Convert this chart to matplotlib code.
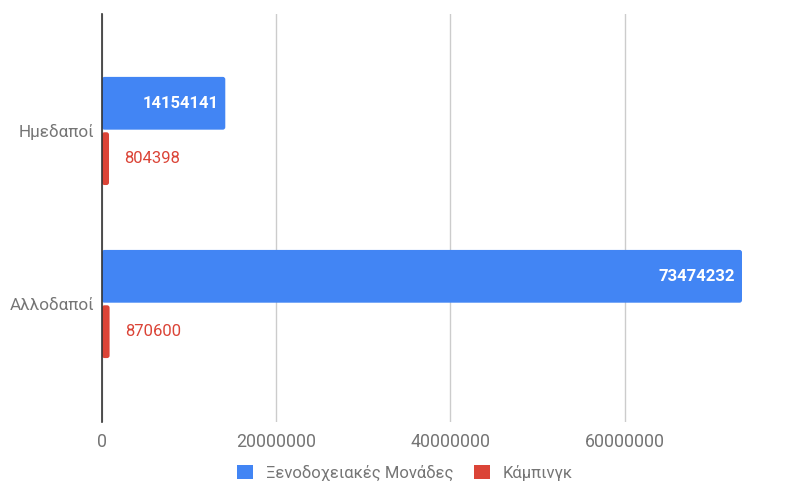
import matplotlib
matplotlib.use("Agg")
import matplotlib.pyplot as plt
from matplotlib.patches import FancyBboxPatch, Patch
import numpy as np

plt.rcParams['font.family'] = ['Roboto', 'DejaVu Sans']

categories = ["Ημεδαποί", "Αλλοδαποί"]
series_names = ["Ξενοδοχειακές Μονάδες", "Κάμπινγκ"]
hotels = [14154141, 73474232]
camping = [804398, 870600]
x_ticks = [0, 20000000, 40000000, 60000000]
x_tick_labels = ["0", "20000000", "40000000", "60000000"]

blue = "#4285F4"
red = "#DB4437"
grey_text = "#757575"

W, H = 790, 483
fig = plt.figure(figsize=(W / 100, H / 100), dpi=100)
left, right, bottom, top = 102, 742, 422, 14
ax = fig.add_axes([left / W, 1 - bottom / H, (right - left) / W, (bottom - top) / H])

y = np.arange(len(categories))
h = 0.305
off = 0.16
xmax = max(hotels)
ylim = (1.682, -0.676)
ax.set_xlim(0, xmax)
ax.set_ylim(*ylim)

# data units per pixel, used to give the bars slightly rounded corners
x_per_px = xmax / (right - left)
y_per_px = (ylim[0] - ylim[1]) / (bottom - top)


def rounded_bars(bars, color):
    for r in bars:
        x0, y0 = r.get_x(), r.get_y()
        w, hh = r.get_width(), r.get_height()
        r.remove()
        ax.add_patch(FancyBboxPatch((x0, y0), w, hh,
                                    boxstyle=f"round,pad=0,rounding_size={2.5 * x_per_px}",
                                    mutation_aspect=y_per_px / x_per_px,
                                    facecolor=color, edgecolor="none", zorder=3))


rounded_bars(ax.barh(y - off, hotels, height=h), blue)
rounded_bars(ax.barh(y + off, camping, height=h), red)

for yi, v in zip(y, hotels):
    ax.annotate(str(v), xy=(v, yi - off), xytext=(-5, 0), textcoords="offset points",
                ha="right", va="center", color="white", fontsize=12,
                fontweight="bold", zorder=4)
for yi, v in zip(y, camping):
    ax.annotate(str(v), xy=(v, yi + off), xytext=(11, 0), textcoords="offset points",
                ha="left", va="center", color=red, fontsize=12, zorder=4)

ax.set_xticks(x_ticks)
ax.set_xticklabels(x_tick_labels)
ax.set_yticks(y)
ax.set_yticklabels(categories)
ax.tick_params(axis="x", length=0, labelsize=12.8, labelcolor=grey_text, pad=8)
ax.tick_params(axis="y", length=0, labelsize=12.3, labelcolor=grey_text, pad=5.5)

ax.grid(axis="x", color="#cccccc", linewidth=1, zorder=0)
for s in ["top", "right", "bottom"]:
    ax.spines[s].set_visible(False)
ax.spines["left"].set_color("#333333")
ax.spines["left"].set_linewidth(1.2)
ax.spines["left"].set_zorder(5)

handles = [Patch(facecolor=blue, label=series_names[0]),
           Patch(facecolor=red, label=series_names[1])]
ax.legend(handles=handles, loc="center", bbox_to_anchor=(405 / W, 1 - 473 / H),
          bbox_transform=fig.transFigure, ncol=2, frameon=False, fontsize=12,
          handlelength=0.95, handleheight=0.9, columnspacing=1.25,
          handletextpad=0.75, labelcolor=grey_text)

fig.savefig("out.png", dpi=100)
